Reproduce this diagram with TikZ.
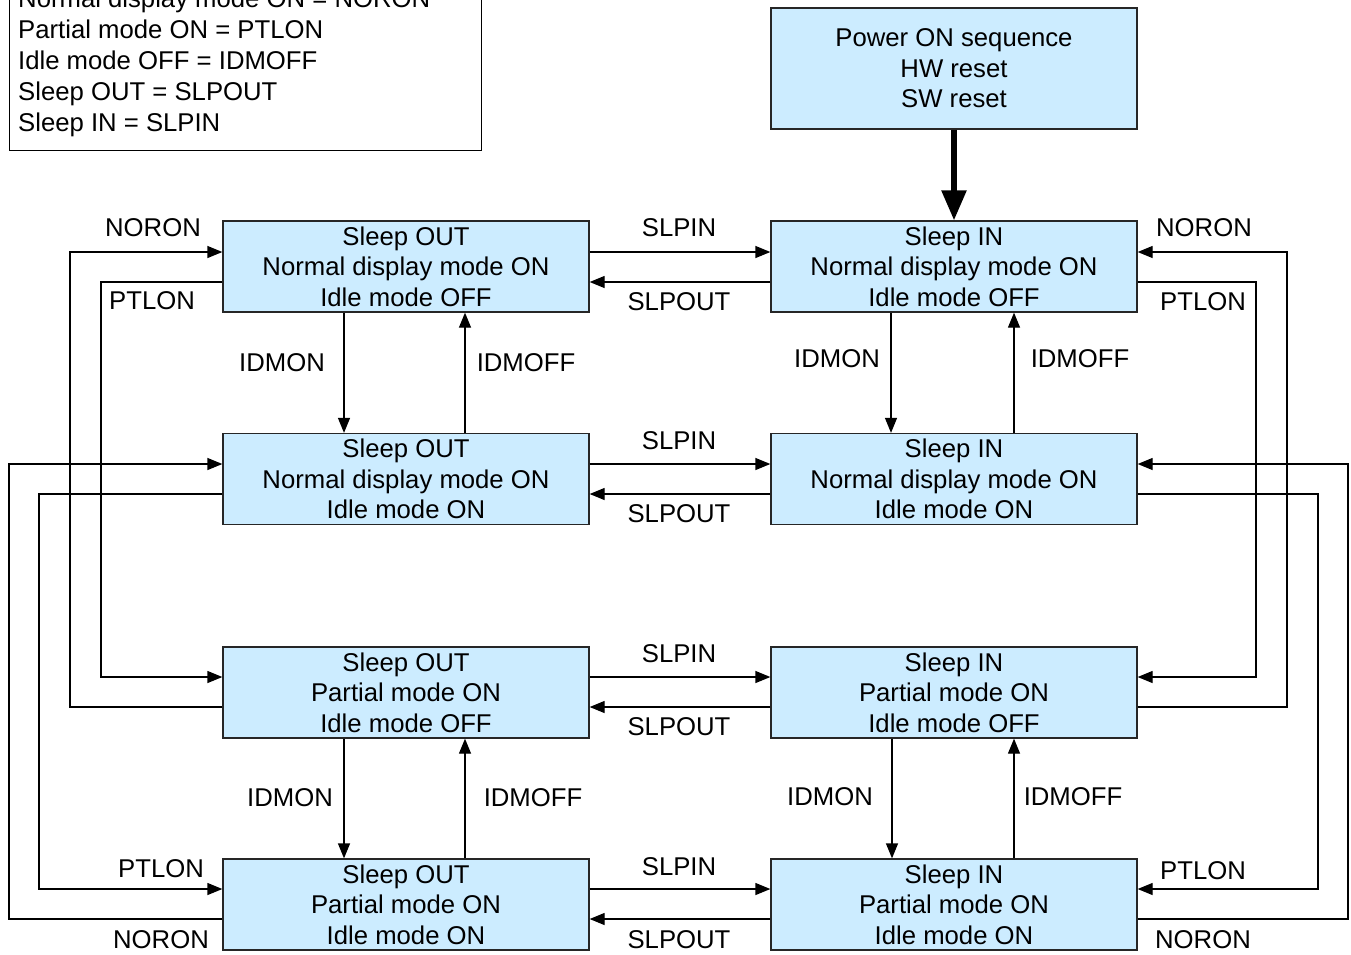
\documentclass[tikz,border=0pt]{standalone}
\usepackage{fontspec}
\setmainfont{Liberation Sans}
\usetikzlibrary{arrows.meta,calc}
\definecolor{boxfill}{RGB}{204,236,255}
\tikzset{
  state/.style={draw=black!85, line width=1.3pt, fill=boxfill, minimum width=366pt, minimum height=91pt,
    align=center, inner sep=0pt, font=\fontsize{25.7}{30.6}\selectfont},
  conn/.style={draw=black, line width=1.3pt, -{Triangle[length=15pt,width=12pt]}},
  lbl/.style={font=\fontsize{25.7}{28}\selectfont, inner sep=0pt},
  thick arrow/.style={draw=black, line width=5.5pt, -{Triangle[length=30pt,width=24pt]}}
}
\begin{document}
\begin{tikzpicture}[x=1pt,y=-1pt]
\useasboundingbox (0,0) rectangle (1351,954);
\fill[white] (0,0) rectangle (1351,954);
% legend
\node[draw=black, line width=1.3pt, anchor=south west, minimum width=472pt, minimum height=200pt, inner sep=0pt] (legend) at (9,151) {};
\node[lbl, anchor=west, align=left, font=\fontsize{25.7}{31}\selectfont] (legtext) at (18,63)
 {Normal display mode ON = NORON\\Partial mode ON = PTLON\\Idle mode OFF = IDMOFF\\Sleep OUT = SLPOUT\\Sleep IN = SLPIN};
% power box
\node[state, minimum height=121pt] (P) at (954,68.5) {Power ON sequence\\HW reset\\SW reset};
% states
\node[state] (L1) at (406,266.5) {Sleep OUT\\Normal display mode ON\\Idle mode OFF};
\node[state] (R1) at (954,266.5) {Sleep IN\\Normal display mode ON\\Idle mode OFF};
\node[state] (L2) at (406,479) {Sleep OUT\\Normal display mode ON\\Idle mode ON};
\node[state] (R2) at (954,479) {Sleep IN\\Normal display mode ON\\Idle mode ON};
\node[state] (L3) at (406,692.5) {Sleep OUT\\Partial mode ON\\Idle mode OFF};
\node[state] (R3) at (954,692.5) {Sleep IN\\Partial mode ON\\Idle mode OFF};
\node[state] (L4) at (406,904.5) {Sleep OUT\\Partial mode ON\\Idle mode ON};
\node[state] (R4) at (954,904.5) {Sleep IN\\Partial mode ON\\Idle mode ON};
% power arrow
\draw[thick arrow] (P.south) -- (R1.north);
% horizontal SLPIN / SLPOUT
\foreach \r/\ya/\yb in {1/252/282, 2/464/494, 3/677/707, 4/889/919} {
  \draw[conn] (L\r.east |- 0,\ya) -- (R\r.west |- 0,\ya);
  \draw[conn] (R\r.west |- 0,\yb) -- (L\r.east |- 0,\yb);
}
\node[lbl] (s1) at (679,228) {SLPIN};
\node[lbl] (o1) at (679,302) {SLPOUT};
\node[lbl] (s2) at (679,441) {SLPIN};
\node[lbl] (o2) at (679,514) {SLPOUT};
\node[lbl] (s3) at (679,654) {SLPIN};
\node[lbl] (o3) at (679,727) {SLPOUT};
\node[lbl] (s4) at (679,867) {SLPIN};
\node[lbl] (o4) at (679,940) {SLPOUT};
% vertical IDMON / IDMOFF
\draw[conn] (L1.south -| 344,0) -- (L2.north -| 344,0);
\draw[conn] (L2.north -| 465,0) -- (L1.south -| 465,0);
\draw[conn] (R1.south -| 891,0) -- (R2.north -| 891,0);
\draw[conn] (R2.north -| 1014,0) -- (R1.south -| 1014,0);
\draw[conn] (L3.south -| 344,0) -- (L4.north -| 344,0);
\draw[conn] (L4.north -| 465,0) -- (L3.south -| 465,0);
\draw[conn] (R3.south -| 892,0) -- (R4.north -| 892,0);
\draw[conn] (R4.north -| 1014,0) -- (R3.south -| 1014,0);
\node[lbl] (i1) at (282,363) {IDMON};
\node[lbl] (f1) at (526,363) {IDMOFF};
\node[lbl] (i2) at (837,359) {IDMON};
\node[lbl] (f2) at (1080,359) {IDMOFF};
\node[lbl] (i3) at (290,798) {IDMON};
\node[lbl] (f3) at (533,798) {IDMOFF};
\node[lbl] (i4) at (830,797) {IDMON};
\node[lbl] (f4) at (1073,797) {IDMOFF};
% left loops
\draw[conn] (L3.west |- 0,707) -| (70,252) -- (L1.west |- 0,252);
\draw[conn] (L1.west |- 0,282) -| (101,677) -- (L3.west |- 0,677);
\draw[conn] (L4.west |- 0,919) -| (9,464) -- (L2.west |- 0,464);
\draw[conn] (L2.west |- 0,494) -| (39,889) -- (L4.west |- 0,889);
% right loops
\draw[conn] (R3.east |- 0,707) -| (1287,252) -- (R1.east |- 0,252);
\draw[conn] (R1.east |- 0,282) -| (1256,677) -- (R3.east |- 0,677);
\draw[conn] (R4.east |- 0,919) -| (1348,464) -- (R2.east |- 0,464);
\draw[conn] (R2.east |- 0,494) -| (1318,889) -- (R4.east |- 0,889);
\node[lbl] (n1) at (153,228) {NORON};
\node[lbl] (p1) at (152,301) {PTLON};
\node[lbl] (p2) at (161,869) {PTLON};
\node[lbl] (n2) at (161,940) {NORON};
\node[lbl] (n3) at (1204,228) {NORON};
\node[lbl] (p3) at (1203,302) {PTLON};
\node[lbl] (p4) at (1203,871) {PTLON};
\node[lbl] (n4) at (1203,940) {NORON};
\end{tikzpicture}
\end{document}
